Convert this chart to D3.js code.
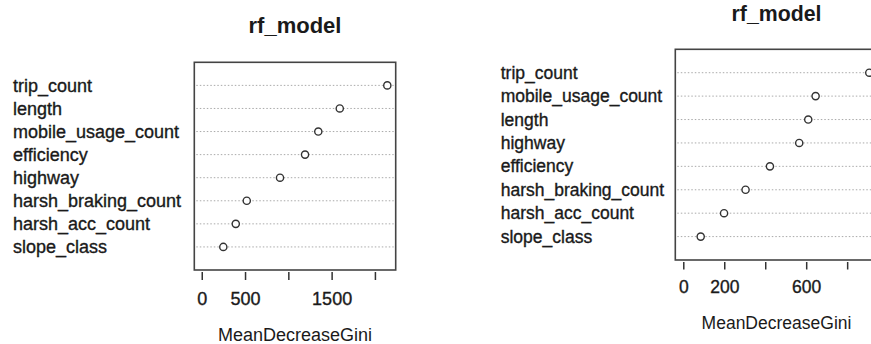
<!DOCTYPE html>
<html>
<head>
<meta charset="utf-8">
<script src="https://cdn.jsdelivr.net/npm/d3@7"></script>
<style>
  body { margin: 0; background: #fff; }
  text { font-family: "Liberation Sans", Arial, sans-serif; fill: #1a1a1a; }
  .heavy { stroke: #1a1a1a; stroke-width: 0.35px; }
</style>
</head>
<body>
<div class="chart-container"></div>
<script>
//! DATA
const LEFT_VARS = ['trip_count', 'length', 'mobile_usage_count', 'efficiency',
  'highway', 'harsh_braking_count', 'harsh_acc_count', 'slope_class'];
const LEFT_GINI = [2143, 1594, 1346, 1193, 904, 520, 393, 249];
const LEFT_TICKS = [0, 500, 1000, 1500, 2000];
const LEFT_TICK_LABELS = [0, 500, 1500];

const RIGHT_VARS = ['trip_count', 'mobile_usage_count', 'length', 'highway',
  'efficiency', 'harsh_braking_count', 'harsh_acc_count', 'slope_class'];
const RIGHT_GINI = [908, 646, 610, 566, 423, 304, 199, 85];
const RIGHT_TICKS = [0, 200, 400, 600, 800, 1000];
const RIGHT_TICK_LABELS = [0, 200, 600];

const TITLE = 'rf_model';
const XLAB = 'MeanDecreaseGini';

//! SVG
const WIDTH = 871;
const HEIGHT = 344;

const svg = d3.select('.chart-container')
  .append('svg')
  .attr('width', WIDTH)
  .attr('height', HEIGHT);

// one dotchart panel (R varImpPlot look)
function drawPanel(p) {
  const x = d3.scaleLinear().domain(p.xDomain).range([p.left, p.right]);
  const y = d3.scalePoint().domain(p.vars).range([p.top, p.bottom]).padding(1);
  const g = svg.append('g');

  // dotted guide lines
  g.selectAll('.grid')
    .data(p.vars)
    .enter()
    .append('line')
    .attr('x1', p.left + 2)
    .attr('x2', p.right - 2)
    .attr('y1', d => y(d))
    .attr('y2', d => y(d))
    .attr('stroke', '#aaa')
    .attr('stroke-width', 1)
    .attr('stroke-dasharray', '1.5,2');

  // box
  g.append('rect')
    .attr('x', p.left)
    .attr('y', p.top)
    .attr('width', p.right - p.left)
    .attr('height', p.bottom - p.top)
    .attr('fill', 'none')
    .attr('stroke', '#444')
    .attr('stroke-width', 1.6);

  // points
  g.selectAll('circle')
    .data(p.values)
    .enter()
    .append('circle')
    .attr('cx', d => x(d))
    .attr('cy', (d, i) => y(p.vars[i]))
    .attr('r', 3.6)
    .attr('fill', '#fff')
    .attr('stroke', '#333')
    .attr('stroke-width', 1.4);

  // row labels
  g.selectAll('.lab')
    .data(p.vars)
    .enter()
    .append('text')
    .attr('class', 'heavy')
    .attr('x', p.labelX)
    .attr('y', d => y(d))
    .attr('dy', '0.35em')
    .style('font-size', p.fontSize + 'px')
    .text(d => d);

  // x axis
  const axis = d3.axisBottom(x)
    .tickValues(p.ticks)
    .tickSize(p.tickSize)
    .tickPadding(p.tickPad)
    .tickFormat(d => p.tickLabels.includes(d) ? d : '');
  const ax = g.append('g')
    .attr('transform', `translate(0,${p.bottom + 2})`)
    .call(axis);
  ax.select('.domain').remove();
  ax.selectAll('line').attr('stroke', '#333').attr('stroke-width', 1.5);
  ax.selectAll('text')
    .attr('class', 'heavy')
    .style('font-family', '"Liberation Sans", Arial, sans-serif')
    .style('font-size', p.fontSize + 'px')
    .attr('fill', '#1a1a1a');

  // title
  g.append('text')
    .attr('x', p.titleX)
    .attr('y', p.titleY)
    .attr('text-anchor', 'middle')
    .style('font-size', p.titleSize + 'px')
    .style('font-weight', 'bold')
    .text(TITLE);

  // x label
  g.append('text')
    .attr('x', p.titleX)
    .attr('y', p.xlabY)
    .attr('text-anchor', 'middle')
    .style('font-size', p.fontSize + 'px')
    .text(XLAB);
}

drawPanel({
  vars: LEFT_VARS, values: LEFT_GINI, ticks: LEFT_TICKS, tickLabels: LEFT_TICK_LABELS,
  xDomain: [-86, 2240], left: 194.3, right: 395.7, top: 62.3, bottom: 270,
  labelX: 13, fontSize: 18, titleSize: 22, titleX: 295, titleY: 33, xlabY: 340.5,
  tickSize: 8, tickPad: 12
});

drawPanel({
  vars: RIGHT_VARS, values: RIGHT_GINI, ticks: RIGHT_TICKS, tickLabels: RIGHT_TICK_LABELS,
  xDomain: [-39, 1014], left: 675.3, right: 891, top: 49.3, bottom: 260,
  labelX: 500.7, fontSize: 17.5, titleSize: 21.3, titleX: 776.5, titleY: 21, xlabY: 329,
  tickSize: 7.5, tickPad: 11.5
});
</script>
</body>
</html>
